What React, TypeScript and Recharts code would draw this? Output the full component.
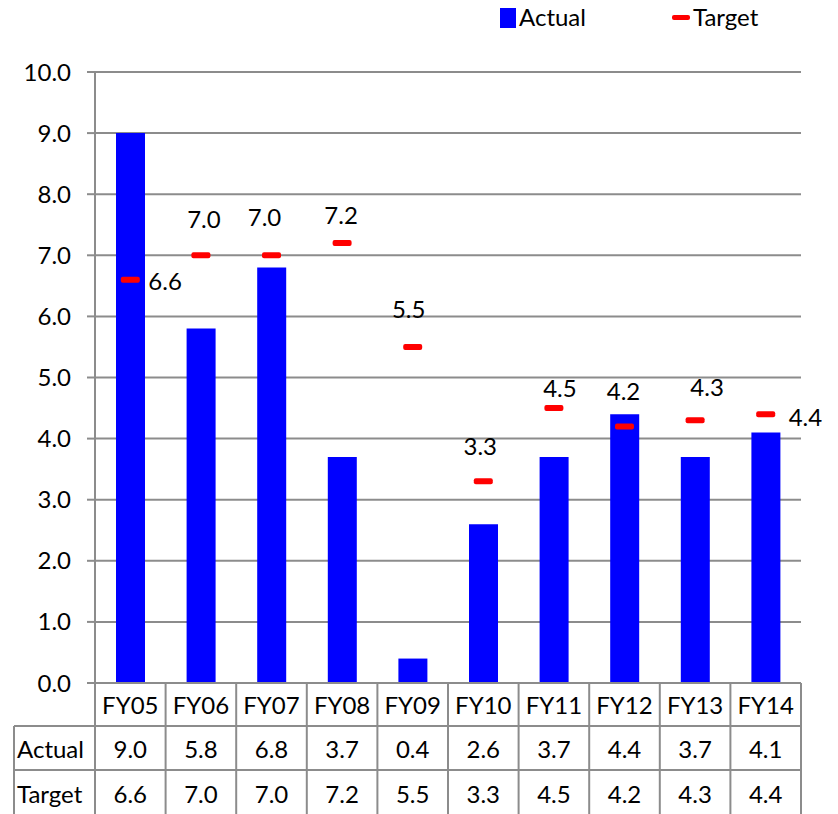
import React from "react";
import {
  ComposedChart,
  Bar,
  Line,
  XAxis,
  YAxis,
  CartesianGrid,
  LabelList,
} from "recharts";

const categories = ["FY05", "FY06", "FY07", "FY08", "FY09", "FY10", "FY11", "FY12", "FY13", "FY14"];
const actual = [9.0, 5.8, 6.8, 3.7, 0.4, 2.6, 3.7, 4.4, 3.7, 4.1];
const target = [6.6, 7.0, 7.0, 7.2, 5.5, 3.3, 4.5, 4.2, 4.3, 4.4];
const yTicks = [0, 1, 2, 3, 4, 5, 6, 7, 8, 9, 10];

// where each target label sits relative to its marker: [anchor, dx, dy]
const labelPlacement: [string, number, number][] = [
  ["start", 18, 1],
  ["middle", 3, -37],
  ["middle", -7, -39],
  ["middle", -1, -29],
  ["middle", -4, -38],
  ["middle", -3, -36],
  ["middle", 6, -21],
  ["middle", -1, -36],
  ["middle", 12, -34],
  ["start", 23, 2],
];

const data = categories.map((name, i) => ({
  name,
  actual: actual[i],
  target: target[i],
}));

const WIDTH = 838;
const HEIGHT = 814;
const MARGIN = { top: 72, right: 37, bottom: 0, left: 0 };
const Y_AXIS_W = 95;
const X_AXIS_H = 131;
const PLOT_LEFT = MARGIN.left + Y_AXIS_W;
const PLOT_BOTTOM = HEIGHT - MARGIN.bottom - X_AXIS_H;
const BAND = (WIDTH - PLOT_LEFT - MARGIN.right) / categories.length;

const FONT = "Lato, 'Open Sans', sans-serif";
const FONT_SIZE = 24;
const GRID = "#8c8c8c";

const HEADER_BOTTOM = PLOT_BOTTOM + 43;
const ROW_SPLIT = PLOT_BOTTOM + 87;
const TABLE_LEFT = 14;

const cellText = (x: number, y: number, text: string, anchor = "middle") => (
  <text
    x={x}
    y={y}
    textAnchor={anchor}
    dominantBaseline="central"
    fontFamily={FONT}
    fontSize={FONT_SIZE}
    fill="#000"
  >
    {text}
  </text>
);

// x-axis ticks double as the data table under the plot
const TableTick = (props: any) => {
  const { x, payload } = props;
  const i = payload.index;
  const left = x - BAND / 2;
  const right = x + BAND / 2;
  return (
    <g>
      <line x1={right} y1={PLOT_BOTTOM} x2={right} y2={HEIGHT} stroke={GRID} strokeWidth={2} />
      <line x1={left} y1={HEADER_BOTTOM} x2={right} y2={HEADER_BOTTOM} stroke={GRID} strokeWidth={2} />
      <line x1={left} y1={ROW_SPLIT} x2={right} y2={ROW_SPLIT} stroke={GRID} strokeWidth={2} />
      {cellText(x, PLOT_BOTTOM + 21, payload.value)}
      {cellText(x, PLOT_BOTTOM + 65, actual[i].toFixed(1))}
      {cellText(x, PLOT_BOTTOM + 110, target[i].toFixed(1))}
      {i === 0 && (
        <g>
          <line x1={left} y1={PLOT_BOTTOM} x2={left} y2={HEIGHT} stroke={GRID} strokeWidth={2} />
          <line x1={TABLE_LEFT} y1={HEADER_BOTTOM} x2={left} y2={HEADER_BOTTOM} stroke={GRID} strokeWidth={2} />
          <line x1={TABLE_LEFT} y1={ROW_SPLIT} x2={left} y2={ROW_SPLIT} stroke={GRID} strokeWidth={2} />
          <line x1={TABLE_LEFT} y1={HEADER_BOTTOM} x2={TABLE_LEFT} y2={HEIGHT} stroke={GRID} strokeWidth={2} />
          {cellText(TABLE_LEFT + 3, PLOT_BOTTOM + 65, "Actual", "start")}
          {cellText(TABLE_LEFT + 3, PLOT_BOTTOM + 110, "Target", "start")}
        </g>
      )}
    </g>
  );
};

const TargetMarker = (props: any) => {
  const { cx, cy } = props;
  if (cx == null || cy == null) return null;
  return <rect x={cx - 9.5} y={cy - 3} width={19} height={6} rx={2} fill="#ff0000" />;
};

const TargetLabel = (props: any) => {
  const { x, y, value, index } = props;
  const [anchor, dx, dy] = labelPlacement[index];
  return cellText(x + dx, y + dy, Number(value).toFixed(1), anchor);
};

const Legend = () => (
  <div style={{ position: "absolute", left: 0, top: 0, fontFamily: FONT, fontSize: FONT_SIZE }}>
    <div style={{ position: "absolute", left: 500, top: 8, width: 16, height: 20, background: "#0000ff" }} />
    <div style={{ position: "absolute", left: 519, top: 3, lineHeight: "28px" }}>Actual</div>
    <div style={{ position: "absolute", left: 672, top: 15, width: 18, height: 5, borderRadius: 2, background: "#ff0000" }} />
    <div style={{ position: "absolute", left: 693, top: 3, lineHeight: "28px" }}>Target</div>
  </div>
);

export default function App() {
  return (
    <div
      style={{
        position: "absolute",
        left: 0,
        top: 0,
        width: WIDTH,
        height: HEIGHT,
        background: "#fff",
        overflow: "hidden",
      }}
    >
      <ComposedChart width={WIDTH} height={HEIGHT} data={data} margin={MARGIN}>
        <CartesianGrid vertical={false} stroke={GRID} strokeWidth={2} />
        <XAxis
          dataKey="name"
          height={X_AXIS_H}
          interval={0}
          tickLine={false}
          axisLine={{ stroke: GRID, strokeWidth: 2 }}
          tick={<TableTick />}
        />
        <YAxis
          width={Y_AXIS_W}
          domain={[0, 10]}
          ticks={yTicks}
          interval={0}
          tickFormatter={(v: number) => v.toFixed(1)}
          tickSize={8}
          tickMargin={16}
          tickLine={{ stroke: GRID, strokeWidth: 2 }}
          axisLine={{ stroke: GRID, strokeWidth: 2 }}
          tick={{ fill: "#000", fontSize: FONT_SIZE, fontFamily: FONT }}
        />
        <Bar dataKey="actual" fill="#0000ff" barSize={29} isAnimationActive={false} />
        <Line
          dataKey="target"
          stroke="none"
          dot={<TargetMarker />}
          activeDot={false}
          isAnimationActive={false}
        >
          <LabelList dataKey="target" content={<TargetLabel />} />
        </Line>
      </ComposedChart>
      <Legend />
    </div>
  );
}
